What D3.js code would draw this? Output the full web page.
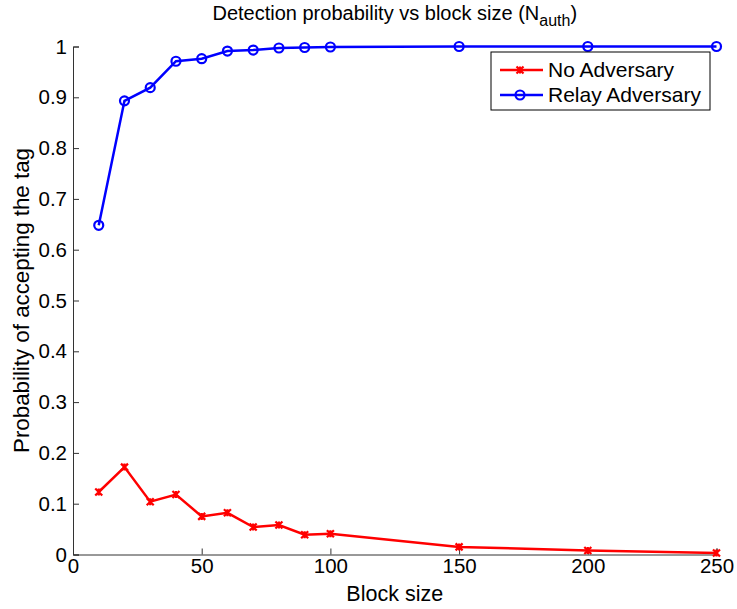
<!DOCTYPE html>
<html>
<head>
<meta charset="utf-8">
<script src="https://cdn.jsdelivr.net/npm/d3@7"></script>
<style>
  body { margin: 0; background: white; }
  text { font-family: "Liberation Sans", Arial, sans-serif; fill: #000; }
</style>
</head>
<body>
<div id="chart"></div>
<script>
// block sizes and probabilities
var blockSize = [10, 20, 30, 40, 50, 60, 70, 80, 90, 100, 150, 200, 250];
var noAdversary = [0.123, 0.172, 0.104, 0.118, 0.075, 0.082, 0.054, 0.058, 0.039, 0.041, 0.015, 0.008, 0.003];
var relayAdversary = [0.648, 0.893, 0.919, 0.971, 0.976, 0.991, 0.993, 0.997, 0.998, 0.999, 1.0, 1.0, 1.0];
var xTicks = [0, 50, 100, 150, 200, 250];
var yTicks = [0, 0.1, 0.2, 0.3, 0.4, 0.5, 0.6, 0.7, 0.8, 0.9, 1];
var seriesNames = ['No Adversary', 'Relay Adversary'];

var W = 737, H = 609;
var svg = d3.select('#chart')
            .append('svg')
            .attr('width', W)
            .attr('height', H);

var x = d3.scaleLinear().domain([0, 250]).range([73, 716.5]);
var y = d3.scaleLinear().domain([0, 1]).range([554.5, 46.5]);

var axisColor = '#333';

// x axis (ticks point inward)
var gx = svg.append('g')
  .attr('transform', 'translate(0,' + y(0) + ')')
  .call(d3.axisBottom(x).tickValues(xTicks).tickSize(-6).tickPadding(4).tickFormat(d3.format('d')));
gx.select('.domain').attr('stroke', axisColor).attr('stroke-width', 1);
gx.selectAll('.tick line').attr('stroke', axisColor);
gx.selectAll('.tick text').style('font-size', '20.5px').attr('dy', '0.71em');

// y axis
var gy = svg.append('g')
  .attr('transform', 'translate(' + x(0) + ',0)')
  .call(d3.axisLeft(y).tickValues(yTicks).tickSize(-6).tickPadding(6).tickFormat(function(d){ return d === 0 || d === 1 ? d : d3.format('.1f')(d); }));
gy.select('.domain').attr('stroke', axisColor).attr('stroke-width', 1);
gy.selectAll('.tick line').attr('stroke', axisColor);
gy.selectAll('.tick text').style('font-size', '20.5px');

// title
var title = svg.append('text')
  .attr('x', (x(0) + x(250)) / 2)
  .attr('y', 20)
  .attr('text-anchor', 'middle')
  .style('font-size', '20px');
title.append('tspan').text('Detection probability vs block size (N');
title.append('tspan').attr('baseline-shift', '-35%').style('font-size', '16px').text('auth');
title.append('tspan').text(')');

// axis labels
svg.append('text')
  .attr('x', (x(0) + x(250)) / 2)
  .attr('y', 601)
  .attr('text-anchor', 'middle')
  .style('font-size', '21.5px')
  .text('Block size');

svg.append('text')
  .attr('transform', 'translate(29,' + (y(0) + y(1)) / 2 + ') rotate(-90)')
  .attr('text-anchor', 'middle')
  .style('font-size', '22.3px')
  .text('Probability of accepting the tag');

var line = d3.line()
  .x(function(d){ return x(d[0]); })
  .y(function(d){ return y(d[1]); });

function cross(g, cx, cy, s) {
  g.append('path')
    .attr('d', 'M' + (cx - s) + ',' + (cy - s) + 'L' + (cx + s) + ',' + (cy + s) +
               'M' + (cx - s) + ',' + (cy + s) + 'L' + (cx + s) + ',' + (cy - s) +
               'M' + cx + ',' + (cy - s) + 'L' + cx + ',' + (cy + s))
    .attr('stroke', 'red')
    .attr('stroke-width', 2.2)
    .attr('fill', 'none');
}

var redData = d3.zip(blockSize, noAdversary);
var blueData = d3.zip(blockSize, relayAdversary);

svg.append('path')
  .datum(redData)
  .attr('d', line)
  .attr('fill', 'none')
  .attr('stroke', 'red')
  .attr('stroke-width', 2.5);

var gRed = svg.append('g');
redData.forEach(function(d){ cross(gRed, x(d[0]), y(d[1]), 3.5); });

svg.append('path')
  .datum(blueData)
  .attr('d', line)
  .attr('fill', 'none')
  .attr('stroke', 'blue')
  .attr('stroke-width', 2.5);

svg.append('g').selectAll('circle')
  .data(blueData)
  .enter().append('circle')
  .attr('cx', function(d){ return x(d[0]); })
  .attr('cy', function(d){ return y(d[1]); })
  .attr('r', 4.5)
  .attr('fill', 'none')
  .attr('stroke', 'blue')
  .attr('stroke-width', 2.2);

// legend
var lg = svg.append('g');
lg.append('rect')
  .attr('x', 491)
  .attr('y', 52)
  .attr('width', 219)
  .attr('height', 58)
  .attr('fill', 'white')
  .attr('stroke', '#000')
  .attr('stroke-width', 1);

var rows = [70, 95];
lg.append('line').attr('x1', 500).attr('x2', 543).attr('y1', rows[0]).attr('y2', rows[0])
  .attr('stroke', 'red').attr('stroke-width', 2.5);
cross(lg, 520, rows[0], 3.5);
lg.append('line').attr('x1', 500).attr('x2', 543).attr('y1', rows[1]).attr('y2', rows[1])
  .attr('stroke', 'blue').attr('stroke-width', 2.5);
lg.append('circle').attr('cx', 520).attr('cy', rows[1]).attr('r', 4.5)
  .attr('fill', 'none').attr('stroke', 'blue').attr('stroke-width', 2.2);

lg.selectAll('text.lab')
  .data(seriesNames)
  .enter().append('text')
  .attr('class', 'lab')
  .attr('x', 548)
  .attr('y', function(d, i){ return rows[i]; })
  .attr('dy', '0.35em')
  .style('font-size', '21px')
  .text(function(d){ return d; });
</script>
</body>
</html>
